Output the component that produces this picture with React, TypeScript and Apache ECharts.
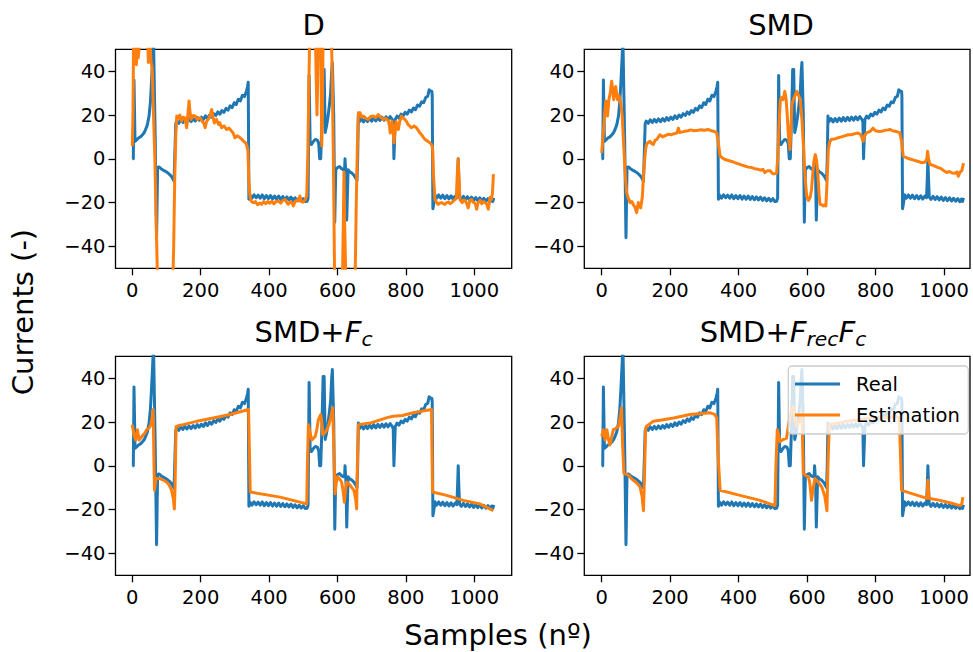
import React, { useEffect, useRef } from "react";
import * as echarts from "echarts";

// ---------------- data (sample index, current) ----------------
const xTicks = [0, 200, 400, 600, 800, 1000];
const yTicks = [-40, -20, 0, 20, 40];
const panelTitles = ["D", "SMD", "SMD+Fc", "SMD+FrecFc"];
const seriesNames = ["Real", "Estimation"];

const real: number[][] = [
  [0,0],[3,0],[5,36],[7,36],[8,8],[12,8.5],[18,9.5],[24,10],[30,11],[35,12],[39,13.4],[44,15.5],[49,19.5],[53,26],[56,34.7],[59,44],[62,55],[64,55],[67,10],[71,-36],[74,-4],[78,-3.7],[84,-4.5],[92,-5.3],[100,-6],[108,-7],[114,-8],[118,-9],[122,-10.2],[124,0],[127,16],[130,17.2],[136,16.2],[142,17.8],[148,16.6],[154,18],[160,16.8],[166,18.2],[172,17],[178,18.4],[184,17.2],[190,18.8],[196,17.6],[202,19],[208,18],[214,19.6],[220,18.4],[226,20],[232,19],[238,20.6],[244,19.8],[250,21.4],[256,20.4],[262,22],[268,21.2],[274,23],[280,22.2],[286,24.2],[292,23.4],[298,25.6],[304,24.8],[310,27.2],[316,26.4],[322,29],[328,28.4],[334,31],[337,33],[339,35],
  [341,-18.5],[344,-16.5],[350,-18],[356,-16.4],[362,-17.8],[368,-16.6],[374,-18],[380,-16.5],[386,-18.2],[392,-16.8],[398,-18.2],[404,-16.8],[410,-18.4],[416,-17],[422,-18.5],[428,-17],[434,-18.6],[440,-17.2],[446,-18.7],[452,-17.4],[458,-18.8],[464,-17.5],[470,-19],[476,-17.8],[482,-19.2],[488,-18],[494,-19.3],[500,-18.2],[506,-19.5],[511,-19.4],
  [514,-18],[517,38],[520,8],[524,6.5],[530,8],[535,8.8],[541,8.5],[545,7],[548,0],[551,0],[554,15],[558,40.8],[561,40.8],[564,12],[568,15],[572,19],[576,24],[580,30],[583,40],[585,44],[587,44],[589,20],[592,-29],[595,-5],[600,-4],[606,-3.5],[612,-4.5],[617,-5],[621,-4],[622,0],[624,0],[625,-8],[627,-28],[629,-28],[631,-5],[636,-6],[642,-6.5],[648,-7.5],[653,-8.7],[657,-10],[659,0],[661,19.5],[664,17],[670,18.4],[676,16.8],[682,18.4],[688,17],[694,18.6],[700,17.2],[706,18.8],[712,17.3],[718,18.9],[724,17.5],[730,19],[736,17.6],[742,19.2],[748,17.8],[754,19.3],[760,18],[763,17],[765,0],[767,0],[769,18],[774,19.5],[780,18.6],[786,20.4],[792,19.6],[798,21.2],[804,20.4],[810,22.2],[816,21.4],[822,23.2],[828,22.4],[834,24.5],[840,24],[846,26],[852,25.6],[858,28],[864,28.6],[868,31.5],[872,31],[876,30.8],[877,29],
  [879,-22.8],[882,-20],[885,-16.4],[890,-18],[896,-16.5],[902,-18],[908,-16.6],[914,-18.2],[920,-16.8],[926,-18.3],[932,-16.9],[938,-18.4],[944,-17],[949,-17.8],[951,-10],[953,0],[955,-10],[957,-17.5],[962,-18.5],[968,-17.1],[974,-18.6],[980,-17.3],[986,-18.8],[992,-17.5],[998,-19],[1004,-17.7],[1010,-19.1],[1016,-17.8],[1022,-19.3],[1028,-18],[1034,-19.4],[1040,-18.2],[1046,-19.6],[1051,-18.4],[1054,-19.5],[1057,-17.8]
];

const dEst: number[][] = [
  [0,5.8],[2,20],[4,60],[8,55],[10,46],[12,43],[14,52],[17,46],[20,50],[23,60],[44,60],[46,50],[47,44],[50,50],[52,52],[55,44],[58,42],[62,20],[66,0],[70,-30],[73,-50],[75,-60],[118,-60],[121,-40],[124,-10],[127,10],[130,19.5],[134,18.5],[139,20],[144,17.2],[149,19],[154,18.7],[157,16],[159,14.2],[162,19],[166,26.4],[169,21],[172,18],[178,19.8],[184,19.5],[190,18],[198,18.7],[205,17],[210,16],[213,14.2],[217,17],[222,18],[228,20],[232,22.5],[236,19],[240,16.4],[246,18],[252,15.7],[256,16.5],[261,14.2],[268,15],[276,13.4],[283,14],[290,12.7],[295,11.8],[300,9.6],[308,10.5],[315,9.6],[320,9],[325,8],[330,7.5],[334,6.5],[338,4],[341,-10],[344,-17],[348,-19.5],[354,-20],[360,-19.5],[366,-21],[372,-20.2],[378,-20.8],[384,-19.5],[390,-20.5],[396,-19.5],[402,-20.3],[408,-19.4],[414,-20.6],[420,-19.5],[427,-19.3],[434,-20.2],[440,-19],[447,-18.6],[452,-20],[456,-20.8],[463,-19.5],[468,-20.4],[471,-21.5],[476,-19.5],[482,-18.8],[486,-19.3],[490,-17],[494,-19.5],[500,-19.8],[506,-18.5],[510,-17],
  [513,0],[516,30],[519,60],[535,60],[538,35],[540,20],[542,35],[544,60],[551,60],[553,20],[554,5.8],[556,20],[558,60],[581,60],[584,44],[588,0],[592,-60],[614,-60],[617,-30],[619,-6],[621,-30],[625,-60],[651,-60],[655,-20],[658,5],[661,21],[666,21],[671,19],[676,19.5],[683,18.5],[690,18],[697,19.3],[705,19.5],[712,18.8],[719,20.2],[726,19],[734,18],[741,18.5],[749,17.2],[752,15],[754,11.8],[757,15],[759,17.2],[762,14],[765,7.3],[768,12],[771,17],[775,15],[778,13.4],[782,17],[787,19.5],[792,18.5],[797,18],[802,17],[806,15.7],[811,15],[816,14.2],[824,15],[831,14.2],[836,13],[841,11.8],[846,11],[850,10],[856,8.8],[862,8.2],[870,7.3],[875,6.5],[878,5],[881,-8],[885,-18.6],[890,-20],[895,-20.8],[900,-20.2],[905,-20],[910,-20.6],[914,-20.8],[919,-20],[924,-19.8],[929,-20.5],[934,-20],[940,-19],[945,-18.5],[948,-17.7],[950,-8],[953,0],[955,-8],[958,-18.6],[962,-19.5],[965,-20],[969,-18.8],[973,-19],[978,-20.5],[982,-22.4],[987,-19],[992,-18.6],[996,-19.8],[1000,-20],[1004,-21],[1007,-23],[1010,-20.5],[1014,-19.5],[1017,-19],[1022,-20.5],[1027,-19.5],[1031,-20],[1036,-20.5],[1041,-23],[1044,-20],[1046,-17.7],[1050,-18.5],[1053,-16],[1056,-7]
];

const smdEst: number[][] = [
  [0,2.7],[4,10],[8,19.5],[12,26.4],[17,19.5],[21,27],[25,30],[29,35.4],[32,32],[35,27],[41,33],[46,27],[50,29],[53,27.7],[57,24],[60,19.5],[63,10],[66,1.2],[70,-10],[73,-15.5],[78,-18],[83,-20],[88,-19.5],[92,-20.8],[97,-22],[102,-24.6],[107,-20],[111,-22],[114,-22.4],[119,-17],[122,-8],[125,-1.8],[128,4],[131,6.5],[136,7.5],[141,8],[146,7],[151,6.5],[156,8.5],[161,8.8],[166,10],[170,11],[178,10],[185,10.6],[195,11.2],[204,11],[212,11.5],[220,11.8],[224,14],[228,12],[236,12.3],[243,12.6],[252,12.8],[260,13.2],[270,12.8],[282,13],[290,13.3],[300,13],[311,13.4],[320,12.8],[330,12.5],[336,11.8],[340,8],[346,1.2],[352,0.5],[360,-0.3],[370,-0.8],[380,-1.2],[389,-1.8],[398,-2.2],[408,-2.8],[418,-3.3],[428,-3.8],[438,-4],[447,-4.5],[457,-4.8],[465,-5.2],[471,-4.8],[477,-6.3],[484,-5.5],[492,-5.5],[500,-6.8],[506,-6.8],[511,-6.5],
  [514,0],[518,15],[522,27],[526,28],[530,27],[535,30.8],[539,27],[542,20],[545,11.8],[550,4.2],[553,15],[556,25],[560,27],[565,29],[570,30.8],[575,29],[580,27],[585,18],[590,4.2],[594,-8],[599,-17],[604,-19],[609,-17.7],[613,-14],[616,-8],[620,-1],[624,1.9],[628,-1],[632,-8],[635,-16],[638,-20.8],[643,-21],[648,-21.5],[652,-21],[655,-21.5],[658,-12],[662,4.2],[666,7.5],[670,8.8],[680,9],[691,9.6],[700,10],[710,10.5],[720,11],[730,11],[740,11.5],[749,11.8],[757,11],[764,8],[768,10.5],[774,11.8],[784,12.5],[793,14],[800,12.8],[810,12.5],[818,12.6],[828,13],[836,13.2],[842,13.4],[850,12.8],[860,12.5],[871,11.8],[876,8],[881,1.2],[890,0.5],[898,0],[906,-0.3],[915,-0.8],[925,-1.2],[935,-1.8],[945,-1.5],[950,0],[952,3.5],[955,0],[959,-2.5],[968,-3],[975,-3.5],[983,-4],[992,-4.5],[1000,-5.5],[1008,-6.3],[1016,-5.8],[1024,-6.5],[1032,-6.6],[1038,-6],[1042,-8],[1047,-6],[1052,-5.5],[1057,-2]
];

const fcEst: number[][] = [
  [0,18.8],[5,14.2],[10,11.8],[15,16.5],[20,11.8],[26,13],[32,14.2],[37,15],[42,16.5],[47,17],[52,18],[56,20],[59,23],[61,25.7],[63,5],[65,-11.2],[68,-7],[71,-5.8],[81,-5.8],[90,-6.5],[100,-7.4],[108,-8.8],[115,-11.2],[120,-15],[123,-19.7],[125,-10],[128,18],[140,18.5],[149,18.8],[188,20.3],[237,21.8],[286,23.4],[340,25.7],[342,10],[345,-12],[432,-14.3],[510,-17.4],
  [512,0],[515,18.8],[520,15],[525,11.8],[535,13.4],[540,17],[544,21],[551,23.4],[554,20],[557,14.2],[563,15],[569,16.5],[575,19],[580,21.8],[586,26.5],[589,10],[593,-12.8],[596,-8],[600,-5],[606,-6],[612,-7.4],[616,-11],[620,-16.6],[623,-12],[627,-7.4],[637,-8.9],[648,-11.2],[653,-15],[656,-19.7],[658,0],[661,18.8],[695,19.5],[725,21],[745,22],[763,22.6],[790,23],[821,24.2],[875,25.7],[876,10],[878,-12],[919,-13.5],[968,-15.8],[1016,-17.4],[1056,-20.5]
];

const frecEst: number[][] = [
  [0,13.4],[5,16.5],[10,11.8],[15,16.5],[20,12],[24,9.5],[29,13],[34,16.5],[40,17],[45,17.5],[49,18],[54,22],[58,26.5],[61,10],[65,-3.5],[70,-3.8],[78,-4.3],[85,-5.5],[92,-6.6],[100,-7.5],[106,-8.5],[112,-9.7],[118,-14],[122,-20.5],[125,-5],[128,16],[130,18],[151,20.3],[180,21],[210,21.8],[258,23.4],[317,24.2],[330,23.5],[336,21.8],[340,5],[346,-11.2],[404,-13.5],[463,-15.8],[506,-18.2],
  [509,0],[513,16.5],[517,14],[521,11],[530,12],[540,12.6],[545,18],[550,22.6],[555,25],[560,27],[565,20],[570,18],[576,20],[582,22],[585,24],[587,10],[589,-3.5],[596,-4.5],[604,-5],[608,-8],[613,-15.8],[618,-10],[623,-5.8],[633,-7.5],[643,-9.7],[652,-14],[658,-20.5],[661,0],[665,18.8],[690,19.5],[720,20.5],[750,21],[770,21.5],[800,22],[830,22],[860,22.5],[868,22],[871,15],[876,-11.2],[939,-14.3],[950,-14.8],[953,-6.6],[956,-14.8],[988,-15.8],[1020,-17],[1047,-18.2],[1052,-17.5],[1055,-14.3]
];

const estimations = [dEst, smdEst, fcEst, frecEst];

// ---------------- layout / style ----------------
const BLUE = "#1f77b4";
const ORANGE = "#ff7f0e";
const FONT = "DejaVu Sans";
const TICK_FS = 19.5;
const BIG_FS = 29;
const SUB_FS = 20.3;

const panels = [
  { left: 115.5, top: 49.3, width: 396.2, xMin: -49.1, xMax: 1109.4 },
  { left: 584.3, top: 49.3, width: 385.7, xMin: -50.8, xMax: 1076 },
  { left: 115.5, top: 356.3, width: 396.2, xMin: -49.1, xMax: 1109.4 },
  { left: 584.3, top: 356.3, width: 385.7, xMin: -50.8, xMax: 1076 },
];
const PANEL_H = 219;

function txt(x: number, y: number, text: string, fs: number, extra: any = {}) {
  return {
    type: "text",
    x,
    y,
    z: 100,
    style: {
      text,
      fontFamily: FONT,
      fontSize: fs,
      fill: "#000",
      align: "left",
      verticalAlign: "middle",
      ...extra,
    },
  };
}

export default function App() {
  const ref = useRef<HTMLDivElement>(null);

  useEffect(() => {
    if (!ref.current) return;
    const chart = echarts.init(ref.current, undefined, { renderer: "svg" });

    const grid = panels.map((p) => ({
      left: p.left,
      top: p.top,
      width: p.width,
      height: PANEL_H,
      show: true,
      borderColor: "#000",
      borderWidth: 1.3,
      backgroundColor: "transparent",
    }));

    const xAxis = panels.map((p, i) => ({
      type: "value",
      gridIndex: i,
      position: "bottom",
      min: p.xMin,
      max: p.xMax,
      axisLine: { show: false, onZero: false },
      splitLine: { show: false },
      axisTick: {
        show: true,
        inside: false,
        length: 7,
        customValues: xTicks,
        lineStyle: { color: "#000", width: 1.3 },
      },
      axisLabel: {
        show: true,
        customValues: xTicks,
        margin: 12,
        fontFamily: FONT,
        fontSize: TICK_FS,
        color: "#000",
        formatter: (v: number) => String(v),
      },
    }));

    const yAxis = panels.map((p, i) => ({
      type: "value",
      gridIndex: i,
      position: "left",
      min: -50,
      max: 50,
      axisLine: { show: false, onZero: false },
      splitLine: { show: false },
      axisTick: {
        show: true,
        inside: false,
        length: 7,
        customValues: yTicks,
        lineStyle: { color: "#000", width: 1.3 },
      },
      axisLabel: {
        show: true,
        customValues: yTicks,
        margin: 10,
        fontFamily: FONT,
        fontSize: TICK_FS,
        color: "#000",
        formatter: (v: number) => String(v).replace("-", "\u2212"),
      },
    }));

    const series: any[] = [];
    panels.forEach((_, i) => {
      series.push({
        name: seriesNames[0],
        type: "line",
        xAxisIndex: i,
        yAxisIndex: i,
        data: real,
        showSymbol: false,
        symbol: "none",
        clip: true,
        z: 2,
        lineStyle: { color: BLUE, width: 3, join: "round" },
        itemStyle: { color: BLUE },
      });
      series.push({
        name: seriesNames[1],
        type: "line",
        xAxisIndex: i,
        yAxisIndex: i,
        data: estimations[i],
        showSymbol: false,
        symbol: "none",
        clip: true,
        z: 3,
        lineStyle: { color: ORANGE, width: 3, join: "round" },
        itemStyle: { color: ORANGE },
      });
    });

    // titles
    const topMid = 25;
    const botMid = 331.7;
    const subMid = 338.7;
    const wSMDplus = 90.1;
    const wF = 16.7;
    const wc = 11.2;
    const wrec = 32;
    const t3x = 313.6 - (wSMDplus + wF + wc) / 2;
    const t4x = 783 - (wSMDplus + wF + wrec + wF + wc) / 2;

    const graphic: any[] = [
      txt(313.6, topMid, panelTitles[0], BIG_FS, { align: "center" }),
      txt(781, topMid, panelTitles[1], BIG_FS, { align: "center" }),
      // SMD+F_c
      txt(t3x, botMid, "SMD+", BIG_FS),
      txt(t3x + wSMDplus, botMid, "F", BIG_FS, { fontStyle: "italic" }),
      txt(t3x + wSMDplus + wF, subMid, "c", SUB_FS, { fontStyle: "italic" }),
      // SMD+F_rec F_c
      txt(t4x, botMid, "SMD+", BIG_FS),
      txt(t4x + wSMDplus, botMid, "F", BIG_FS, { fontStyle: "italic" }),
      txt(t4x + wSMDplus + wF, subMid, "rec", SUB_FS, { fontStyle: "italic" }),
      txt(t4x + wSMDplus + wF + wrec, botMid, "F", BIG_FS, { fontStyle: "italic" }),
      txt(t4x + wSMDplus + wF + wrec + wF, subMid, "c", SUB_FS, { fontStyle: "italic" }),
      // axis labels
      txt(498, 635, "Samples (n\u00ba)", BIG_FS, { align: "center" }),
      {
        type: "text",
        x: 23.3,
        y: 312,
        rotation: Math.PI / 2,
        z: 100,
        style: {
          text: "Currents (-)",
          fontFamily: FONT,
          fontSize: BIG_FS,
          fill: "#000",
          align: "center",
          verticalAlign: "middle",
        },
      },
      // legend
      {
        type: "rect",
        z: 50,
        shape: { x: 788.3, y: 366, width: 180, height: 68, r: 4 },
        style: { fill: "rgba(255,255,255,0.8)", stroke: "#cccccc", lineWidth: 1.3 },
      },
      {
        type: "line",
        z: 51,
        shape: { x1: 795, y1: 384, x2: 840, y2: 384 },
        style: { stroke: BLUE, lineWidth: 3 },
      },
      {
        type: "line",
        z: 51,
        shape: { x1: 795, y1: 415, x2: 840, y2: 415 },
        style: { stroke: ORANGE, lineWidth: 3 },
      },
      txt(856, 384, seriesNames[0], TICK_FS),
      txt(856, 415, seriesNames[1], TICK_FS),
    ];

    chart.setOption({
      animation: false,
      backgroundColor: "#ffffff",
      grid,
      xAxis,
      yAxis,
      series,
      graphic,
    });

    return () => chart.dispose();
  }, []);

  return (
    <div
      ref={ref}
      style={{ position: "absolute", left: 0, top: 0, width: 973, height: 652, background: "#fff" }}
    />
  );
}
